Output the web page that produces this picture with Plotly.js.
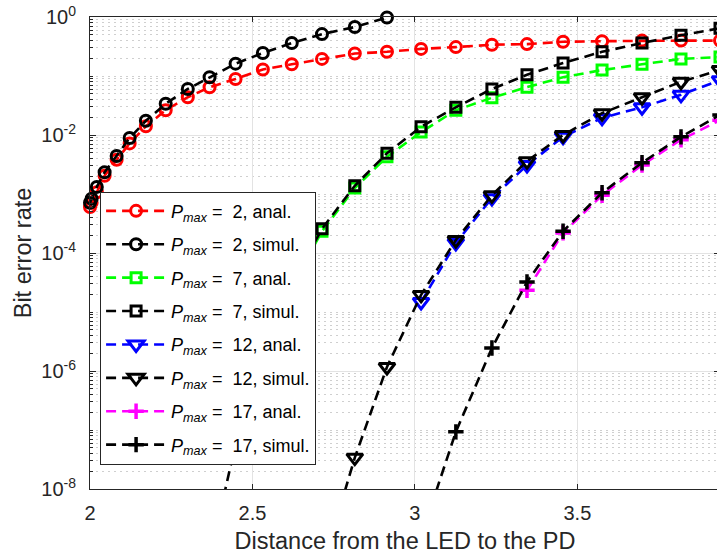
<!DOCTYPE html>
<html>
<head>
<meta charset="utf-8">
<script src="https://cdn.plot.ly/plotly-3.0.1.min.js"></script>
<style>
html,body{margin:0;padding:0;overflow:hidden;background:#fff;}
#chart{width:724px;height:557px;}
</style>
</head>
<body>
<div id="chart"></div>
<script>
// Distance from the LED to the PD (common x grid)
const distance = [2.000,2.005,2.021,2.045,2.082,2.122,2.172,2.233,2.301,2.368,2.448,2.532,2.621,2.714,2.815,2.914,3.019,3.126,3.237,3.345,3.456,3.576,3.699,3.819,3.939];

// Bit error rate series (null = no point)
const berP2Anal = [6.0e-4,7.1e-4,1.07e-3,2.04e-3,3.8e-3,7.2e-3,0.0141,0.0263,0.0437,0.0646,0.0891,0.129,0.158,0.195,0.240,0.257,0.288,0.309,0.339,0.347,0.380,0.389,0.398,0.398,0.398];
const berP2Sim  = [7.1e-4,8.3e-4,1.32e-3,2.34e-3,4.4e-3,8.9e-3,0.0174,0.0339,0.0603,0.0955,0.162,0.245,0.363,0.513,0.676,0.98,null,null,null,null,null,null,null,null,null];
const berP7Anal = [null,null,null,null,null,null,null,null,null,null,null,null,2.75e-5,2.34e-4,1.26e-3,4.27e-3,0.0112,0.0263,0.0427,0.0646,0.0955,0.126,0.158,0.195,0.209];
const berP7Sim  = [null,null,null,null,null,null,null,null,null,6.5e-10,5.8e-8,1.95e-6,2.95e-5,2.57e-4,1.38e-3,4.9e-3,0.0138,0.0295,0.0603,0.105,0.166,0.257,0.363,0.490,0.646];
const berP12Anal = [null,null,null,null,null,null,null,null,null,null,null,null,null,null,null,null,1.48e-5,1.48e-4,8.5e-4,3.09e-3,9.3e-3,0.0195,0.0295,0.048,0.0851];
const berP12Sim  = [null,null,null,null,null,null,null,null,null,null,null,null,null,4.6e-10,3.4e-8,1.17e-6,1.95e-5,1.66e-4,9.5e-4,3.6e-3,0.0100,0.0234,0.0437,0.080,0.126];
const berP17Anal = [null,null,null,null,null,null,null,null,null,null,null,null,null,null,null,null,null,null,null,2.34e-5,2.19e-4,9.5e-4,3.09e-3,8.3e-3,0.0178];
const berP17Sim  = [null,null,null,null,null,null,null,null,null,null,null,null,null,null,null,null,1.55e-9,9.3e-8,2.45e-6,3.24e-5,2.34e-4,1.05e-3,3.39e-3,9.3e-3,0.0219];

const legendLabels = [
  "<i>P</i><sub><i>max</i></sub>\u00a0=\u00a0\u00a02, anal.",
  "<i>P</i><sub><i>max</i></sub>\u00a0=\u00a0\u00a02, simul.",
  "<i>P</i><sub><i>max</i></sub>\u00a0=\u00a0\u00a07, anal.",
  "<i>P</i><sub><i>max</i></sub>\u00a0=\u00a0\u00a07, simul.",
  "<i>P</i><sub><i>max</i></sub>\u00a0=\u00a0\u00a012, anal.",
  "<i>P</i><sub><i>max</i></sub>\u00a0=\u00a0\u00a012, simul.",
  "<i>P</i><sub><i>max</i></sub>\u00a0=\u00a0\u00a017, anal.",
  "<i>P</i><sub><i>max</i></sub>\u00a0=\u00a0\u00a017, simul."
];

const yTickVals = [1e-8,1e-6,1e-4,1e-2,1];
const yTickText = ["10<sup>-8</sup>","10<sup>-6</sup>","10<sup>-4</sup>","10<sup>-2</sup>","10<sup>0</sup>"];
const xTickVals = [2,2.5,3,3.5];
const xTickText = ["2","2.5","3","3.5"];

// minor tick positions on the log axis
const yMinor = [];
for (let d = -8; d < 0; d++) {
  for (let k = 2; k <= 9; k++) yMinor.push(k * Math.pow(10, d));
  if (d % 2 !== 0) yMinor.push(Math.pow(10, d));
}

const DASH = "10px,6px";
function tr(y, name, group, color, symbol, size, lw) {
  return {
    x: distance, y: y, name: name, legendgroup: group, type: "scatter", mode: "lines+markers",
    connectgaps: false, cliponaxis: false,
    line: {color: color, width: 2.6, dash: DASH},
    marker: {symbol: symbol, size: size, color: color, line: {color: color, width: lw}}
  };
}

const data = [
  tr(berP2Anal, legendLabels[0], "g1", "#ff0000", "circle-open", 11, 3),
  tr(berP2Sim,  legendLabels[1], "g2", "#000000", "circle-open", 11, 3),
  tr(berP7Anal, legendLabels[2], "g3", "#00ff00", "square-open", 10, 3),
  tr(berP7Sim,  legendLabels[3], "g4", "#000000", "square-open", 10, 3),
  tr(berP12Anal, legendLabels[4], "g5", "#0000ff", "triangle-down-open", 14, 3),
  tr(berP12Sim,  legendLabels[5], "g6", "#000000", "triangle-down-open", 14, 3),
  tr(berP17Anal, legendLabels[6], "g7", "#ff00ff", "cross-thin-open", 11, 3.5),
  tr(berP17Sim,  legendLabels[7], "g8", "#000000", "cross-thin-open", 11, 3.5)
];

const FONT = "Liberation Sans, Arial, Helvetica, sans-serif";
const layout = {
  width: 724, height: 557,
  margin: {l: 90, r: 4, t: 17, b: 68},
  paper_bgcolor: "#ffffff", plot_bgcolor: "#ffffff",
  font: {family: FONT, size: 18, color: "#262626"},
  showlegend: true,
  legend: {
    x: 0.016, y: 0.63, xanchor: "left", yanchor: "top",
    bgcolor: "#ffffff", bordercolor: "#262626", borderwidth: 1,
    font: {family: FONT, size: 18, color: "#000000"},
    itemwidth: 60, tracegroupgap: 7, traceorder: "grouped"
  },
  xaxis: {
    range: [2, 3.939], type: "linear",
    tickmode: "array", tickvals: xTickVals, ticktext: xTickText,
    ticks: "inside", ticklen: 5, tickcolor: "#262626", tickwidth: 1,
    ticklabelstandoff: 6,
    showline: true, linecolor: "#262626", linewidth: 1, mirror: "ticks",
    showgrid: true, gridcolor: "#e3e3e3", gridwidth: 1,
    zeroline: false,
    tickfont: {family: FONT, size: 20, color: "#262626"},
    title: {text: "Distance from the LED to the PD", font: {family: FONT, size: 23.5, color: "#262626"}, standoff: 9}
  },
  yaxis: {
    type: "log", range: [-8, 0],
    tickmode: "array", tickvals: yTickVals, ticktext: yTickText,
    ticks: "inside", ticklen: 6, tickcolor: "#262626", tickwidth: 1,
    ticklabelstandoff: 9,
    showline: true, linecolor: "#262626", linewidth: 1, mirror: "ticks",
    showgrid: true, gridcolor: "#e3e3e3", gridwidth: 1,
    zeroline: false,
    tickfont: {family: FONT, size: 20, color: "#262626"},
    minor: {tickmode: "array", tickvals: yMinor, ticks: "inside", ticklen: 3, tickcolor: "#262626",
            showgrid: true, gridcolor: "#cfcfcf", gridwidth: 1, griddash: "2px,4px"},
    title: {text: "Bit error rate", font: {family: FONT, size: 23.5, color: "#262626"}, standoff: 3}
  }
};

Plotly.newPlot("chart", data, layout, {displayModeBar: false, staticPlot: true});
</script>
</body>
</html>
